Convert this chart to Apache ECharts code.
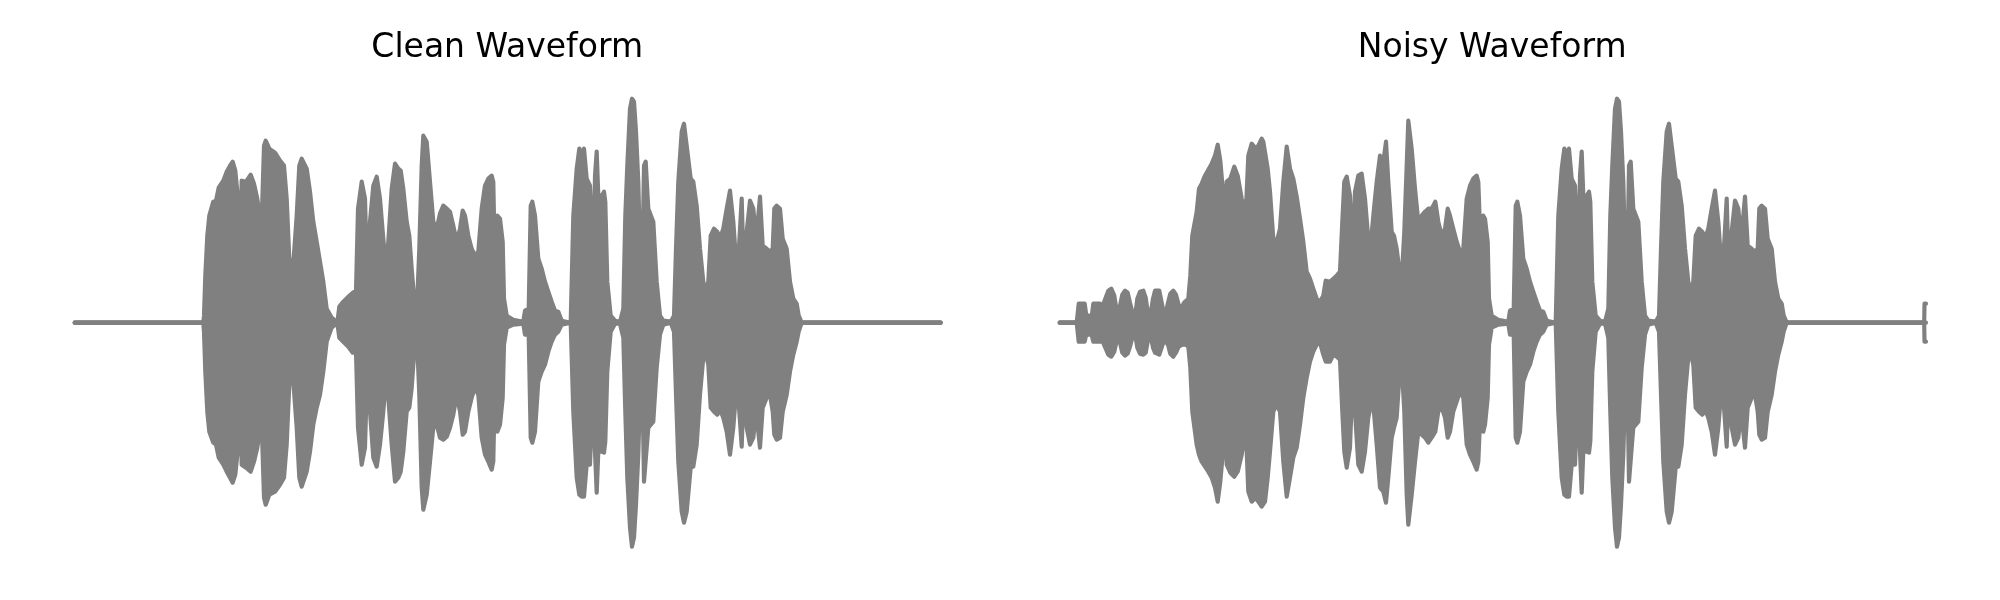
<!DOCTYPE html>
<html>
<head>
<meta charset="utf-8">
<script src="https://cdn.jsdelivr.net/npm/echarts@6/dist/echarts.min.js"></script>
<style>html,body{margin:0;padding:0;background:#fff;}#chart{width:2000px;height:600px;}</style>
</head>
<body>
<div id="chart"></div>
<script>
// Envelope of each waveform: time position, upper peak, lower peak
const titles = ['Clean Waveform', 'Noisy Waveform'];

const cleanT = [2,130.6,131.3,132.6,134.6,136.6,140.6,143.3,146.0,150.6,
154.0,157.3,160.0,162.6,165.3,167.3,169.0,173.3,178.0,181.3,
184.6,186.6,189.3,191.3,193.0,196.6,202.3,207.3,211.3,214.0,
216.6,220.6,224.0,226.6,229.0,234.0,237.3,240.6,244.0,247.3,
250.6,254.0,259.0,264.6,266.6,270.6,275.6,280.0,283.3,285.3,
289.0,292.3,294.6,297.3,300.6,304.0,307.3,310.6,313.3,315.6,
319.0,322.3,325.6,328.0,330.6,334.0,336.6,339.0,342.3,344.0,
346.6,349.0,350.6,354.0,357.3,360.6,364.0,367.3,370.6,374.0,
377.3,380.6,384.0,387.3,390.0,392.3,395.6,399.0,402.3,405.6,
409.0,412.3,415.6,419.0,420.6,422.3,424.6,427.3,
430.0,431.3,434.0,440.6,450.6,452.3,456.0,458.0,459.6,462.3,
465.6,469.0,472.3,475.6,479.0,482.3,485.6,489.0,498.0,500.6,
504.0,506.6,509.0,511.3,514.0,517.3,519.3,520.6,522.3,524.0,
525.6,529.0,531.3,532.6,534.6,538.0,542.3,547.3,550.6,552.6,
554.6,557.3,559.3,561.3,563.3,565.6,568.0,569.3,571.3,573.0,
575.6,580.6,584.0,587.3,590.6,598.0,601.3,603.3,605.6,609.0,
611.3,614.0,618.0,620.6,624.0,627.3,630.6,633.3,635.6,638.0,
641.3,644.6,647.3,650.6,654.0,657.3,660.6,663.0,664.6,666.6,
669.0,671.3,674.0,677.3,680.6,683.3,685.6,687.3,690.0,694.0,
697.3,700.0,701.6,704.0,707.3,710.0,714.0,717.3,720.6,724.0,
726.0,729.0,868];

const cleanUpper = [0,0,7,47,87,107,121,122,135,142,
151,157,161,152,124,67,142,141,148,139,
124,110,112,177,182,174,170,162,157,124,
64,59,107,157,164,154,131,101,81,61,
41,14,5,0,16,21,26,30,32,114,
141,124,41,101,137,146,124,84,54,81,
134,159,154,152,134,101,87,54,14,9,
74,157,187,181,141,101,94,109,117,114,
111,97,81,94,112,107,87,74,67,71,
114,137,144,147,141,54,107,104,
81,24,7,3,1,12,14,117,121,107,
64,54,41,31,21,12,11,2,0,107,
154,174,169,174,144,137,91,47,147,171,
127,127,131,121,41,7,2,1,14,107,
157,214,224,221,191,141,47,37,157,161,
114,101,41,7,2,1,7,74,141,191,
199,177,144,141,117,74,41,31,41,87,
94,91,84,94,114,132,101,67,47,81,
124,41,91,122,114,84,107,126,77,74,
71,74,114,117,114,84,74,41,24,19,
7,0,0];

const cleanLower = [0,0,-9,-49,-89,-109,-120,-122,-135,-142,
-149,-155,-160,-152,-125,-69,-142,-145,-149,-139,
-125,-111,-112,-175,-182,-172,-169,-162,-155,-122,
-62,-59,-105,-155,-164,-149,-129,-102,-85,-72,
-49,-19,-5,0,-15,-19,-24,-30,-30,-105,
-142,-125,-45,-89,-135,-144,-122,-89,-55,-75,
-122,-159,-155,-149,-129,-89,-85,-65,-19,-9,
-72,-165,-187,-172,-139,-105,-102,-115,-117,-114,
-105,-92,-72,-89,-112,-109,-89,-75,-65,-72,
-115,-132,-139,-147,-139,-55,-109,-102,
-75,-22,-5,-2,-1,-12,-12,-115,-120,-109,
-59,-49,-42,-29,-19,-12,-9,-2,0,-89,
-155,-172,-174,-174,-142,-142,-89,-75,-129,-170,
-129,-129,-130,-119,-49,-9,-1,-1,-15,-89,
-155,-205,-224,-215,-182,-132,-49,-39,-159,-160,
-105,-99,-45,-12,-2,0,-9,-72,-139,-189,
-200,-189,-145,-144,-122,-72,-35,-32,-42,-85,
-89,-92,-87,-95,-109,-132,-105,-75,-65,-89,
-124,-55,-105,-122,-115,-89,-109,-125,-85,-75,
-72,-89,-112,-117,-115,-89,-72,-49,-32,-19,
-9,0,0];

const noisyT = [2,19.0,21.0,27.0,28.5,29.3,34.0,35.6,42.3,43.6,
45.0,47.6,50.6,53.6,56.6,58.6,60.6,62.3,64.6,67.3,
70.0,72.3,74.6,78.0,79.6,82.3,85.6,88.0,90.0,93.3,
95.3,97.3,101.6,103.6,105.6,108.0,110.3,112.6,115.6,118.3,
121.0,123.0,124.6,126.3,128.0,130.6,
132.6,134.6,139.0,141.3,
144.0,147.3,150.6,154.0,157.3,160.0,162.6,165.3,167.0,169.0,
172.6,176.6,180.0,184.0,186.6,188.6,190.6,194.0,198.0,200.6,
204.0,205.6,207.3,210.0,212.3,215.6,219.0,222.3,225.6,229.0,
232.3,235.6,239.0,242.3,245.6,249.0,252.3,255.6,259.0,262.3,
265.6,268.0,272.3,275.6,279.0,282.3,284.6,286.6,289.0,292.3,
294.6,297.3,300.6,304.0,307.3,310.6,313.3,315.6,319.0,322.3,
325.6,328.3,330.6,334.0,336.3,339.0,342.3,344.0,346.6,349.0,
350.6,354.0,357.3,360.6,364.0,367.3,370.6,374.0,377.6,380.6,
384.0,387.3,390.0,392.3,395.6,399.0,402.3,405.6,409.0,412.3,
415.6,419.0,420.6,423.3,425.6,427.3,
430.0,431.3,434.0,440.6,450.6,452.3,456.0,458.0,459.6,462.3,
465.6,469.0,472.3,475.6,479.0,482.3,485.6,489.0,498.0,500.6,
504.0,506.6,509.0,511.3,514.0,517.3,519.3,520.6,522.3,524.0,
525.6,529.0,531.3,532.6,534.6,538.0,542.3,547.3,550.6,552.6,
554.6,557.3,559.3,561.3,563.3,565.6,568.0,569.3,571.3,573.0,
575.6,580.6,584.0,587.3,590.6,598.0,601.3,603.3,605.6,609.0,
611.3,614.0,618.0,620.6,624.0,627.3,630.6,633.3,635.6,638.0,
641.3,644.6,647.3,650.6,654.0,657.3,660.6,663.0,664.6,666.6,
669.0,671.3,674.0,677.3,680.6,683.3,685.6,687.3,690.0,694.0,
697.3,700.0,701.6,704.0,707.3,710.0,714.0,717.3,720.6,724.0,
726.0,729.0,866.5,866.8,868.3];

const noisyUpper = [0,0,19,19,8,6,6,19,19,9,
17,24,32,34,27,14,7,17,28,32,
30,20,11,11,24,31,32,25,11,11,
24,32,32,22,12,9,20,29,32,28,
18,12,11,20,22,24,
47,87,111,134,
139,147,153,159,167,178,162,131,67,141,
144,156,147,124,117,121,167,179,174,177,
184,181,181,154,131,84,81,94,141,176,
154,144,126,104,81,51,44,34,24,21,
27,42,41,44,47,51,101,141,146,127,
61,131,147,149,124,84,81,107,141,167,
161,181,141,91,87,74,47,44,91,157,
202,174,134,101,107,111,114,114,121,101,
87,94,114,107,94,81,71,74,124,137,
144,147,141,67,107,104,
81,24,7,3,1,12,14,117,121,107,
64,54,41,31,21,12,11,2,0,107,
154,174,169,174,144,137,91,47,147,171,
127,127,131,121,41,7,2,1,14,107,
157,214,224,221,191,141,47,37,157,161,
114,101,41,7,2,1,7,74,141,191,
199,177,144,141,117,74,41,31,41,87,
94,91,84,94,114,132,101,67,47,81,
124,41,91,122,114,84,107,126,77,74,
71,74,114,117,114,84,74,41,24,19,
7,0,0,19,19];

const noisyLower = [0,0,-19,-19,-12,-10,-12,-19,-19,-14,
-19,-25,-32,-34,-29,-20,-15,-20,-30,-33,
-31,-24,-15,-15,-25,-31,-32,-30,-19,-15,
-25,-30,-32,-26,-20,-19,-22,-31,-34,-30,
-24,-22,-22,-22,-22,-24,
-45,-89,-122,-132,
-139,-144,-149,-155,-165,-179,-159,-129,-72,-142,
-150,-154,-149,-132,-115,-119,-169,-179,-175,-179,
-184,-182,-179,-155,-129,-89,-82,-89,-139,-174,
-155,-135,-125,-102,-75,-55,-39,-29,-22,-20,
-32,-39,-39,-32,-34,-37,-89,-129,-145,-125,
-62,-89,-142,-149,-129,-95,-82,-82,-122,-165,
-169,-180,-155,-115,-105,-95,-45,-42,-89,-172,
-202,-172,-139,-109,-112,-115,-120,-115,-109,-89,
-85,-95,-115,-109,-89,-79,-69,-75,-122,-132,
-139,-147,-139,-75,-109,-102,
-75,-22,-5,-2,-1,-12,-12,-115,-120,-109,
-59,-49,-42,-29,-19,-12,-9,-2,0,-89,
-155,-172,-174,-174,-142,-142,-89,-75,-129,-170,
-129,-129,-130,-119,-49,-9,-1,-1,-15,-89,
-155,-205,-224,-215,-182,-132,-49,-39,-159,-160,
-105,-99,-45,-12,-2,0,-9,-72,-139,-189,
-200,-189,-145,-144,-122,-72,-35,-32,-42,-85,
-89,-92,-87,-95,-109,-132,-105,-75,-65,-89,
-124,-55,-105,-122,-115,-89,-109,-125,-85,-75,
-72,-89,-112,-117,-115,-89,-72,-49,-32,-19,
-9,0,0,-19,-19];

const GRAY = '#808080';
const chart = echarts.init(document.getElementById('chart'), null, {renderer: 'canvas'});

function pairs(t, v) { return t.map((x, i) => [x, v[i]]); }
function waveSeries(t, v, idx) {
  return {
    type: 'line', xAxisIndex: idx, yAxisIndex: idx,
    data: pairs(t, v), symbol: 'none', silent: true, clip: false,
    lineStyle: {color: GRAY, width: 4.17, cap: 'round', join: 'round'},
    areaStyle: {color: GRAY, opacity: 1, origin: 'auto'}
  };
}
function baseSeries(t, idx) {
  return {
    type: 'line', xAxisIndex: idx, yAxisIndex: idx,
    data: [[t[0], 0], [t[t.length - 1], 0]], symbol: 'none', silent: true,
    lineStyle: {color: GRAY, width: 4.17, cap: 'round'}
  };
}

const titleStyle = {fontSize: 33, fontWeight: 'normal', fontFamily: 'DejaVu Sans', color: '#000'};
const gridLefts = [27.7, 1012.7];

const option = {
  animation: false,
  backgroundColor: '#ffffff',
  title: titles.map((txt, i) => ({
    text: txt, left: gridLefts[i] + 474.5, top: 27, textAlign: 'center', textStyle: titleStyle
  })),
  grid: gridLefts.map(l => ({left: l, top: 72.67, width: 958, height: 500})),
  xAxis: [0, 1].map(i => ({gridIndex: i, type: 'value', min: -45, max: 913, show: false})),
  yAxis: [0, 1].map(i => ({gridIndex: i, type: 'value', min: -250, max: 250, show: false})),
  series: [
    waveSeries(cleanT, cleanUpper, 0),
    waveSeries(cleanT, cleanLower, 0),
    baseSeries(cleanT, 0),
    waveSeries(noisyT, noisyUpper, 1),
    waveSeries(noisyT, noisyLower, 1),
    baseSeries(noisyT, 1)
  ]
};
chart.setOption(option);
</script>
</body>
</html>
